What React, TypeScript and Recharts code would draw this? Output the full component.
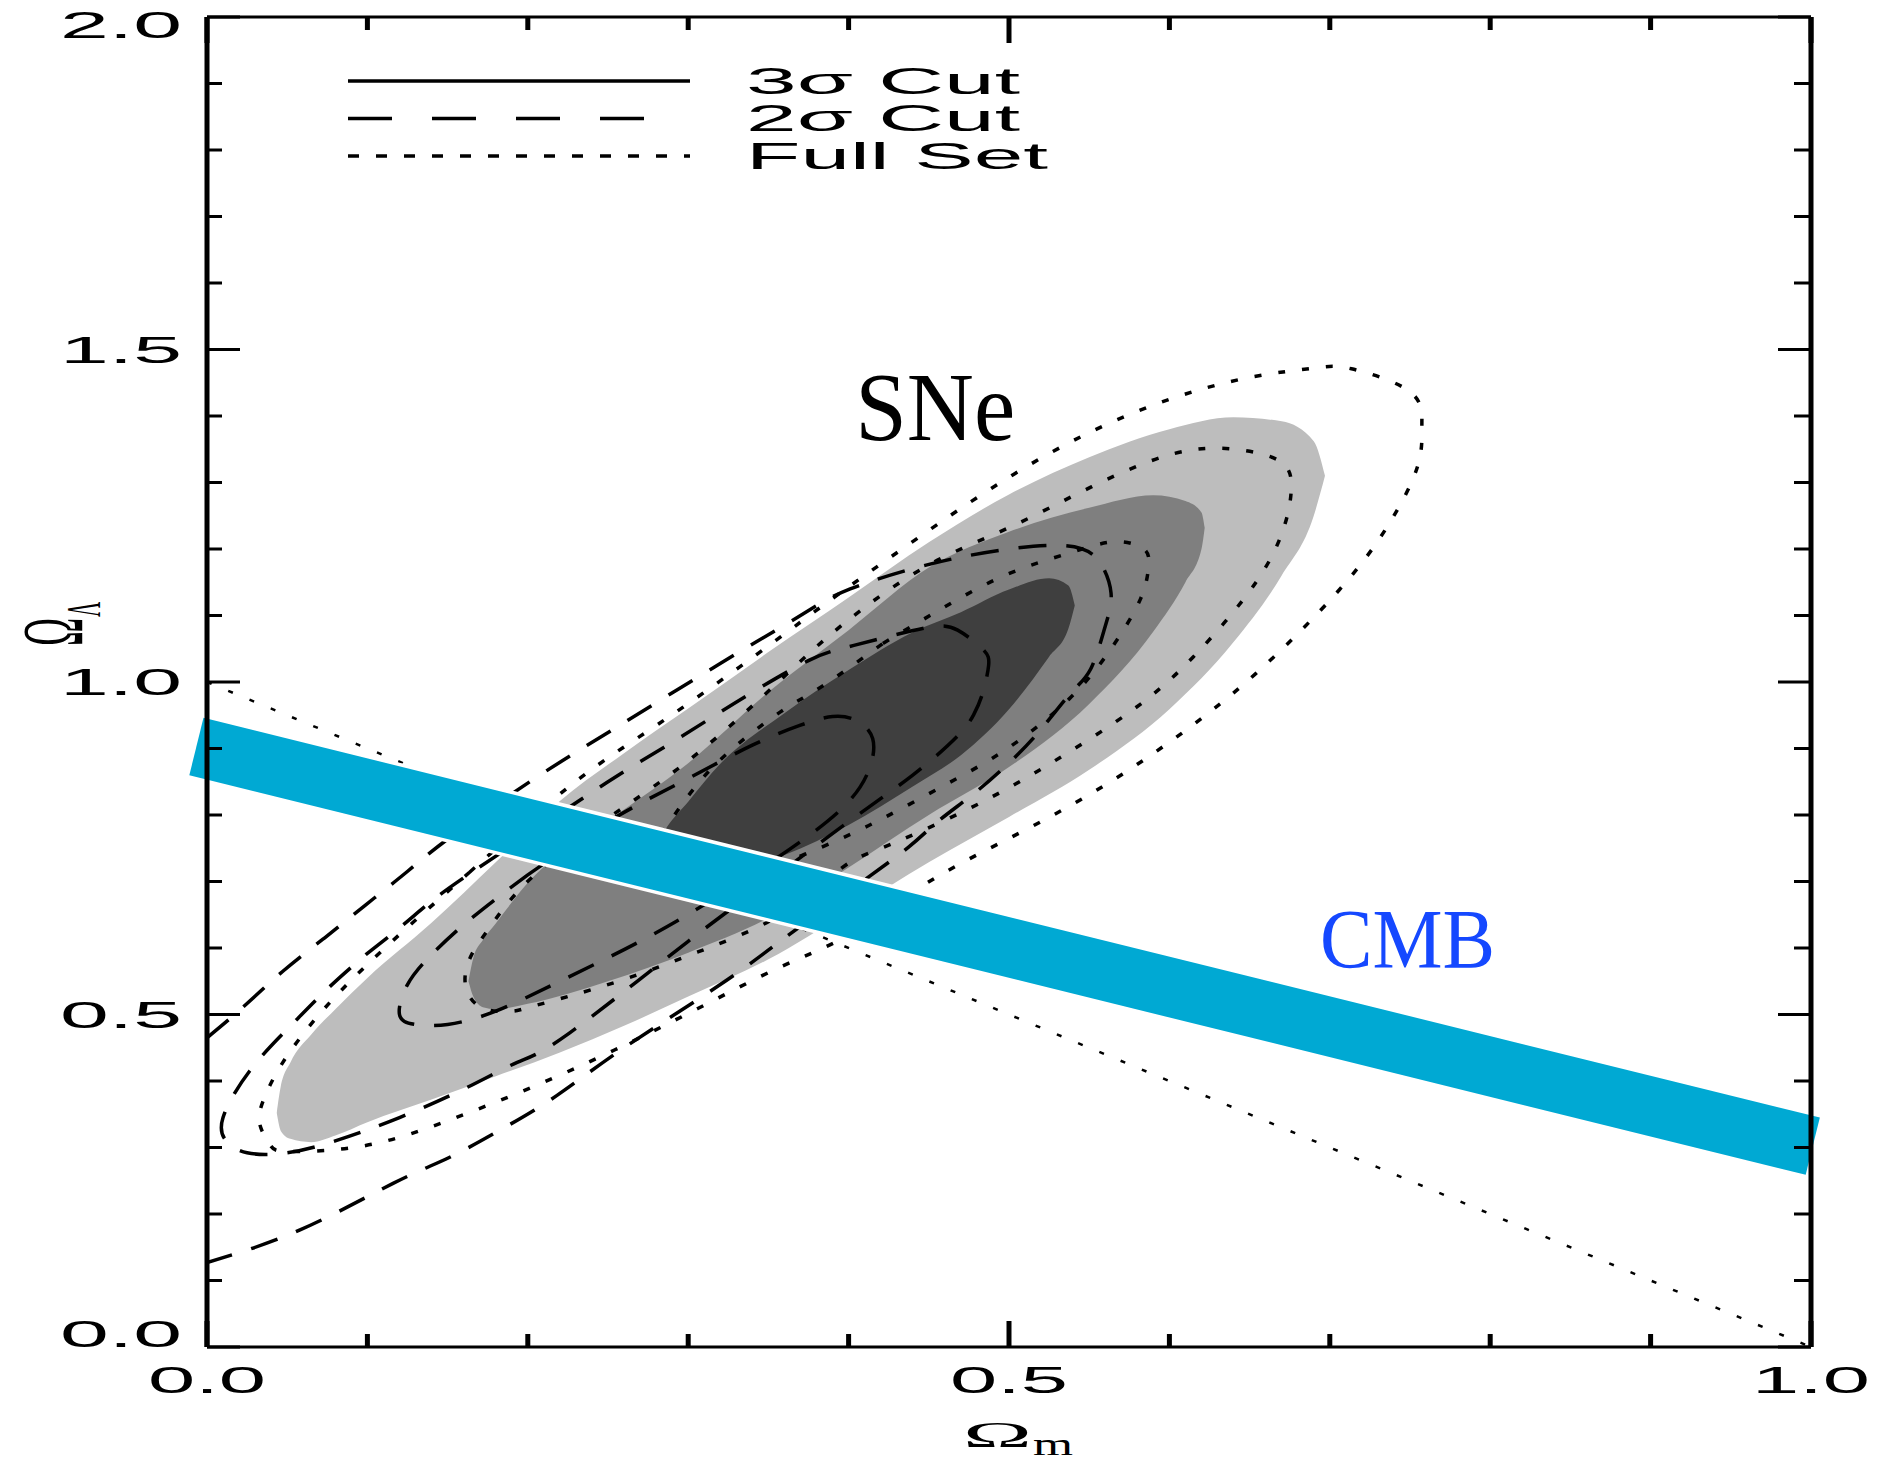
import React from "react";
import { ComposedChart, XAxis, YAxis, Area, Line, ReferenceLine, Scatter, Legend } from "recharts";

const CHART_W = 1881;
const CHART_H = 1461;
const PLOT_TOP = 17;
const PLOT_BOTTOM = 1347;

const xTicks = [0, 0.1, 0.2, 0.3, 0.4, 0.5, 0.6, 0.7, 0.8, 0.9, 1.0];
const xMajorTicks = [0, 0.5, 1.0];
const xTickLabels = ["0.0", "0.5", "1.0"];
const yTicks = [0, 0.1, 0.2, 0.3, 0.4, 0.5, 0.6, 0.7, 0.8, 0.9, 1.0, 1.1, 1.2, 1.3, 1.4, 1.5, 1.6, 1.7, 1.8, 1.9, 2.0];
const yMajorTicks = [0, 0.5, 1.0, 1.5, 2.0];
const yTickLabels = ["0.0", "0.5", "1.0", "1.5", "2.0"];

// 3σ cut, filled confidence regions: [Ωm, lower ΩΛ, upper ΩΛ]
const cut3Outer: [number, number, number][] = [
  [0.0435, 0.352, 0.352], [0.046, 0.325, 0.392], [0.052, 0.313, 0.428], [0.065, 0.308, 0.47],
  [0.08, 0.318, 0.508], [0.1, 0.338, 0.555], [0.14, 0.372, 0.638], [0.18, 0.407, 0.729],
  [0.22, 0.443, 0.821], [0.26, 0.483, 0.893], [0.3, 0.527, 0.96], [0.35, 0.583, 1.045],
  [0.4, 0.655, 1.127], [0.45, 0.729, 1.21], [0.5, 0.797, 1.282], [0.55, 0.868, 1.338],
  [0.6, 0.959, 1.38], [0.64, 1.06, 1.398], [0.67, 1.16, 1.392], [0.69, 1.25, 1.362], [0.697, 1.31, 1.31],
];
const cut3Middle: [number, number, number][] = [
  [0.163, 0.55, 0.55], [0.166, 0.527, 0.585], [0.172, 0.511, 0.612], [0.18, 0.508, 0.637],
  [0.2, 0.516, 0.698], [0.25, 0.55, 0.791], [0.3, 0.593, 0.878], [0.35, 0.645, 0.985],
  [0.4, 0.721, 1.078], [0.45, 0.8, 1.172], [0.5, 0.872, 1.226], [0.55, 0.967, 1.262],
  [0.59, 1.076, 1.281], [0.61, 1.15, 1.272], [0.62, 1.2, 1.255], [0.622, 1.232, 1.232],
];
const cut3Inner: [number, number, number][] = [
  [0.275, 0.725, 0.725], [0.285, 0.705, 0.775], [0.3, 0.705, 0.82], [0.32, 0.712, 0.877],
  [0.36, 0.74, 0.953], [0.4, 0.785, 1.018], [0.44, 0.843, 1.075], [0.47, 0.89, 1.105],
  [0.5, 0.959, 1.139], [0.525, 1.038, 1.156], [0.537, 1.08, 1.145], [0.541, 1.115, 1.115],
];

// 2σ cut, dashed contours: [Ωm, ΩΛ]
const cut2Outer: [number, number][] = [
  [0, 0.465], [0.0215, 0.509], [0.0473, 0.565], [0.0732, 0.615], [0.099, 0.665], [0.1249, 0.715],
  [0.1508, 0.765], [0.2025, 0.852], [0.254, 0.93], [0.3187, 1.026], [0.37, 1.1], [0.401, 1.14],
  [0.452, 1.178], [0.5, 1.2], [0.535, 1.205], [0.555, 1.185], [0.5636, 1.134], [0.56, 1.084],
  [0.551, 1.02], [0.538, 0.982], [0.519, 0.926], [0.499, 0.876], [0.478, 0.832], [0.455, 0.789],
  [0.437, 0.751], [0.4, 0.685], [0.36, 0.615], [0.32, 0.545], [0.26, 0.45], [0.218, 0.378],
  [0.184, 0.328], [0.151, 0.285], [0.116, 0.246], [0.058, 0.176], [0, 0.127],
];
const cut2Middle: [number, number][] = [
  [0.099, 0.59], [0.1249, 0.64], [0.1508, 0.69], [0.2, 0.77], [0.25, 0.85], [0.285, 0.902],
  [0.3136, 0.945], [0.339, 0.983], [0.3756, 1.033], [0.4033, 1.055], [0.447, 1.081], [0.468, 1.078],
  [0.4834, 1.05], [0.4873, 1.025], [0.4834, 0.982], [0.478, 0.951], [0.468, 0.919], [0.44, 0.86],
  [0.4, 0.79], [0.35, 0.7], [0.3, 0.61], [0.2257, 0.4716], [0.1934, 0.428], [0.1623, 0.3905],
  [0.12, 0.345], [0.08, 0.31], [0.05, 0.292], [0.025, 0.292], [0.012, 0.31], [0.01, 0.345],
  [0.0267, 0.4155], [0.0525, 0.484], [0.0757, 0.54], [0.099, 0.59],
];
const cut2Inner: [number, number][] = [
  [0.2, 0.71], [0.25, 0.79], [0.3, 0.855], [0.34, 0.905], [0.37, 0.935], [0.39, 0.948],
  [0.405, 0.942], [0.415, 0.915], [0.413, 0.87], [0.4, 0.82], [0.37, 0.76], [0.32, 0.68],
  [0.27, 0.61], [0.22, 0.55], [0.18, 0.505], [0.15, 0.485], [0.13, 0.485], [0.12, 0.5],
  [0.125, 0.545], [0.14, 0.59], [0.165, 0.645], [0.2, 0.71],
];

// Full set, dotted contours: [Ωm, ΩΛ]
const fullOuter: [number, number][] = [
  [0.1637, 0.714], [0.228, 0.847], [0.28, 0.9345], [0.3317, 1.022], [0.37, 1.09], [0.4, 1.143],
  [0.45, 1.228], [0.5, 1.308], [0.55, 1.375], [0.6, 1.425], [0.65, 1.458], [0.69, 1.472],
  [0.7135, 1.471], [0.7497, 1.437], [0.7574, 1.387], [0.7548, 1.325], [0.7367, 1.237], [0.7057, 1.138],
  [0.654, 1.013], [0.602, 0.913], [0.551, 0.832], [0.499, 0.7636], [0.447, 0.695], [0.401, 0.621],
  [0.3575, 0.5714], [0.306, 0.509], [0.254, 0.4466], [0.2025, 0.3905], [0.1508, 0.341], [0.099, 0.303],
  [0.0525, 0.294], [0.0396, 0.303], [0.033, 0.334], [0.035, 0.37], [0.0473, 0.428], [0.0732, 0.509],
  [0.112, 0.6025], [0.1637, 0.714],
];
const fullMiddle: [number, number][] = [
  [0.254, 0.802], [0.306, 0.893], [0.3575, 1.003], [0.3956, 1.085], [0.447, 1.172], [0.499, 1.231],
  [0.551, 1.293], [0.602, 1.343], [0.641, 1.35], [0.6695, 1.331], [0.676, 1.293], [0.672, 1.237],
  [0.654, 1.15], [0.615, 1.038], [0.5765, 0.957], [0.5248, 0.876], [0.473, 0.807], [0.4214, 0.751],
  [0.3956, 0.72], [0.3575, 0.65], [0.306, 0.594], [0.254, 0.548], [0.2025, 0.512], [0.1895, 0.505],
  [0.1714, 0.51], [0.161, 0.5465], [0.165, 0.59], [0.1766, 0.632], [0.2025, 0.706], [0.254, 0.802],
];
const fullInner: [number, number][] = [
  [0.4214, 1.058], [0.46, 1.113], [0.499, 1.162], [0.5377, 1.194], [0.566, 1.211], [0.584, 1.2],
  [0.587, 1.175], [0.582, 1.125], [0.5636, 1.05], [0.5377, 0.975], [0.499, 0.9], [0.46, 0.845],
  [0.4214, 0.795], [0.3826, 0.751], [0.33, 0.705], [0.29, 0.695], [0.272, 0.715], [0.29, 0.795],
  [0.3187, 0.88], [0.3575, 0.955], [0.3826, 0.992], [0.4214, 1.058],
];

// flat universe line and CMB constraint band (centre line)
const flatLine: [number, number][] = [[0, 1], [1, 0]];
const cmbBand: [number, number][] = [[-0.0066, 0.903], [1.0011, 0.302]];

const annotations = [
  { x: 0.454, y: 1.364, text: "SNe" },
  { x: 0.7484, y: 0.57, text: "CMB" },
];
const legendLabels = ["3σ Cut", "2σ Cut", "Full Set"];

// ---------- styling ----------
const SANS = "'Liberation Sans', Arial, Helvetica, sans-serif";
const SERIF = "'Liberation Serif', 'Times New Roman', serif";
const annotationStyle: Record<string, { fill: string; size: number; len: number }> = {
  SNe: { fill: "#000000", size: 97, len: 160 },
  CMB: { fill: "#1548ff", size: 84, len: 175 },
};
const legendStyle = [
  { dash: undefined as string | undefined, x2: 690, len: 274 },
  { dash: "44 40", x2: 646, len: 274 },
  { dash: "11 17", x2: 690, len: 302 },
];

const toRange = (arr: [number, number, number][]) => arr.map(([x, lo, hi]) => ({ x, r: [lo, hi] }));
const toPts = (arr: [number, number][]) => arr.map(([x, y]) => ({ x, y }));
const seg = (arr: [number, number][]) => arr.map(([x, y]) => ({ x, y }));

const near = (a: number, b: number) => Math.abs(a - b) < 1e-6;
const majorIndex = (list: number[], v: number) => list.findIndex((m) => near(m, v));

function BottomTick(props: any) {
  const { x, y, payload } = props;
  const i = majorIndex(xMajorTicks, payload.value);
  return (
    <g>
      <line x1={x} x2={x} y1={y} y2={y - (i >= 0 ? 26 : 13)} stroke="#000" strokeWidth={5} />
      {i >= 0 && (
        <text x={x} y={y + 46} textAnchor="middle" fontFamily={SANS} fontSize={36} fill="#000"
          textLength={118} lengthAdjust="spacingAndGlyphs">{xTickLabels[i]}</text>
      )}
    </g>
  );
}
function TopTick(props: any) {
  const { x, y, payload } = props;
  const i = majorIndex(xMajorTicks, payload.value);
  return <line x1={x} x2={x} y1={y} y2={y + (i >= 0 ? 26 : 13)} stroke="#000" strokeWidth={5} />;
}
function LeftTick(props: any) {
  const { x, y, payload } = props;
  const i = majorIndex(yMajorTicks, payload.value);
  const base = Math.max(Math.min(y + 13, PLOT_BOTTOM), PLOT_TOP + 21);
  return (
    <g>
      <line x1={x} x2={x + (i >= 0 ? 33 : 15)} y1={y} y2={y} stroke="#000" strokeWidth={3} />
      {i >= 0 && (
        <text x={x - 86} y={base} textAnchor="middle" fontFamily={SANS} fontSize={36} fill="#000"
          textLength={122} lengthAdjust="spacingAndGlyphs">{yTickLabels[i]}</text>
      )}
    </g>
  );
}
function RightTick(props: any) {
  const { x, y, payload } = props;
  const i = majorIndex(yMajorTicks, payload.value);
  return <line x1={x} x2={x - (i >= 0 ? 33 : 17)} y1={y} y2={y} stroke="#000" strokeWidth={3} />;
}

function XTitle(props: any) {
  const vb = props.viewBox || { x: 207, y: 1347 };
  return (
    <g>
      <text x={vb.x + 790.5} y={vb.y + 100} textAnchor="middle" fontFamily={SERIF} fontSize={36} fill="#000"
        textLength={69} lengthAdjust="spacingAndGlyphs">Ω</text>
      <text x={vb.x + 826} y={vb.y + 108} fontFamily={SERIF} fontSize={32} fill="#000"
        textLength={40} lengthAdjust="spacingAndGlyphs">m</text>
    </g>
  );
}
function YTitle(props: any) {
  const vb = props.viewBox || { x: 0, y: 17 };
  const cx = vb.x + 82;
  const cy = vb.y + 615;
  return (
    <g transform={`translate(${cx},${cy}) scale(2.3,1) rotate(-90)`}>
      <text x={0} y={0} textAnchor="middle" fontFamily={SERIF} fontSize={38} fill="#000">Ω</text>
      <text x={15} y={7.8} fontFamily={SERIF} fontSize={21} fill="#000">Λ</text>
    </g>
  );
}

function AnnotationShape(props: any) {
  const { cx, cy, payload } = props;
  const t = payload?.text ?? "";
  const s = annotationStyle[t] || { fill: "#000", size: 80, len: 150 };
  return (
    <text x={cx} y={cy} textAnchor="middle" fontFamily={SERIF} fontSize={s.size} fill={s.fill}
      textLength={s.len} lengthAdjust="spacingAndGlyphs">{t}</text>
  );
}

function LegendContent() {
  return (
    <svg width={1100} height={200} style={{ display: "block", overflow: "visible" }}>
      {legendLabels.map((label, i) => {
        const y = 81 + i * 37.5;
        const st = legendStyle[i];
        return (
          <g key={label}>
            <line x1={348} x2={st.x2} y1={y} y2={y} stroke="#000" strokeWidth={3.5} strokeDasharray={st.dash} />
            <text x={746} y={y + 12.5} fontFamily={SANS} fontSize={36} fill="#000"
              textLength={st.len} lengthAdjust="spacingAndGlyphs">{label}</text>
          </g>
        );
      })}
    </svg>
  );
}

const AX = { xAxisId: "b", yAxisId: "l" } as const;

export default function App() {
  const dashed = "28 20";
  const dotted = "7 17";
  return (
    <div style={{ position: "absolute", left: 0, top: 0, width: CHART_W, height: CHART_H, background: "#fff" }}>
      <ComposedChart width={CHART_W} height={CHART_H} margin={{ top: 0, right: 0, bottom: 0, left: 0 }}>
        <XAxis xAxisId="b" orientation="bottom" type="number" dataKey="x" domain={[0, 1]} allowDataOverflow
          ticks={xTicks} interval={0} tickSize={0} tickMargin={0} tickLine={false} tick={BottomTick}
          axisLine={{ stroke: "#000", strokeWidth: 3 }} height={114} label={<XTitle />} />
        <XAxis xAxisId="t" orientation="top" type="number" dataKey="x" domain={[0, 1]} allowDataOverflow
          ticks={xTicks} interval={0} tickSize={0} tickMargin={0} tickLine={false} tick={TopTick}
          axisLine={{ stroke: "#000", strokeWidth: 3 }} height={17} />
        <YAxis yAxisId="l" orientation="left" type="number" domain={[0, 2]} allowDataOverflow
          ticks={yTicks} interval={0} tickSize={0} tickMargin={0} tickLine={false} tick={LeftTick}
          axisLine={{ stroke: "#000", strokeWidth: 5 }} width={207} label={<YTitle />} />
        <YAxis yAxisId="r" orientation="right" type="number" domain={[0, 2]} allowDataOverflow
          ticks={yTicks} interval={0} tickSize={0} tickMargin={0} tickLine={false} tick={RightTick}
          axisLine={{ stroke: "#000", strokeWidth: 5 }} width={70} />

        <Legend layout="horizontal" verticalAlign="middle" align="center" content={<LegendContent />}
          wrapperStyle={{ left: 0, top: 0, width: 1100, height: 200, pointerEvents: "none" }} />

        <Area {...AX} data={toRange(cut3Outer)} dataKey="r" type="monotone" stroke="none" fill="#bdbdbd"
          fillOpacity={1} isAnimationActive={false} dot={false} activeDot={false} legendType="none" />
        <Area {...AX} data={toRange(cut3Middle)} dataKey="r" type="monotone" stroke="none" fill="#7f7f7f"
          fillOpacity={1} isAnimationActive={false} dot={false} activeDot={false} legendType="none" />
        <Area {...AX} data={toRange(cut3Inner)} dataKey="r" type="monotone" stroke="none" fill="#3f3f3f"
          fillOpacity={1} isAnimationActive={false} dot={false} activeDot={false} legendType="none" />

        {[fullOuter, fullMiddle, fullInner].map((c, i) => (
          <Line key={"f" + i} {...AX} data={toPts(c)} dataKey="y" type="natural" stroke="#000" strokeWidth={3.5}
            strokeDasharray={dotted} dot={false} activeDot={false} isAnimationActive={false} legendType="none" />
        ))}
        {[cut2Outer, cut2Middle, cut2Inner].map((c, i) => (
          <Line key={"d" + i} {...AX} data={toPts(c)} dataKey="y" type="natural" stroke="#000" strokeWidth={3.5}
            strokeDasharray={dashed} dot={false} activeDot={false} isAnimationActive={false} legendType="none" />
        ))}

        <ReferenceLine {...AX} segment={seg(flatLine)} ifOverflow="visible" stroke="#000" strokeWidth={2.5}
          strokeDasharray="5 18" />
        <ReferenceLine {...AX} segment={seg(cmbBand)} ifOverflow="visible" stroke="#ffffff" strokeWidth={66} />
        <ReferenceLine {...AX} segment={seg(cmbBand)} ifOverflow="visible" stroke="#00a9d3" strokeWidth={59} />

        <Scatter {...AX} data={annotations} dataKey="y" shape={<AnnotationShape />} isAnimationActive={false}
          legendType="none" />
      </ComposedChart>
    </div>
  );
}
